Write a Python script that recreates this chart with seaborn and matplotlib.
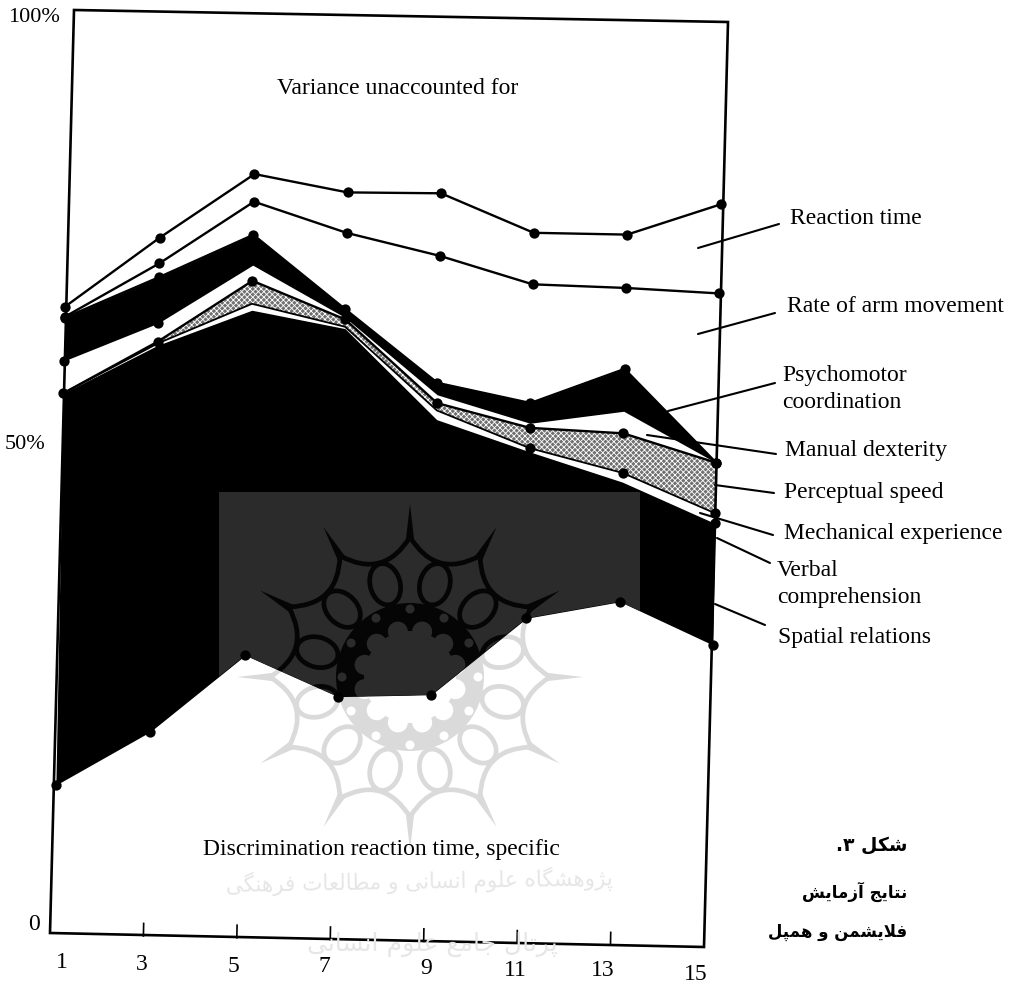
import numpy as np
import pandas as pd
import matplotlib
matplotlib.use("Agg")
import matplotlib.pyplot as plt
import seaborn as sns
from matplotlib.path import Path
from matplotlib.patches import PathPatch, Rectangle, Circle, Polygon
from matplotlib.transforms import Affine2D

# practice trial blocks on the x axis
trials = [1, 3, 5, 7, 9, 11, 13, 15]
tick_labels = ["1", "3", "5", "7", "9", "11", "13", "15"]

# cumulative percent of variance, upper edge of each band
reaction_time = [68.3, 76.0, 83.1, 81.3, 81.4, 77.3, 77.3, 80.8]
arm_movement = [67.2, 73.2, 80.1, 76.9, 74.6, 71.7, 71.5, 71.1]
psychomotor = [67.1, 71.7, 76.5, 68.6, 60.8, 58.8, 62.7, 52.7]
manual_dexterity = [62.4, 66.7, 73.2, 67.7, 59.5, 56.6, 58.1, 52.7]
perceptual = [58.9, 64.7, 71.5, 67.5, 58.6, 56.1, 55.7, 52.7]
mechanical = [58.9, 64.5, 69.0, 66.7, 57.8, 53.9, 51.4, 47.2]
verbal = [58.9, 64.3, 68.3, 66.5, 56.8, 53.5, 50.4, 46.1]
spatial = [16.3, 22.3, 30.8, 26.5, 26.9, 35.4, 37.4, 32.9]

W, H = 1010, 984
sns.set_style("white")
plt.rcParams["font.family"] = "Liberation Serif"
plt.rcParams["hatch.linewidth"] = 0.6
plt.rcParams["text.color"] = "black"

fig = plt.figure(figsize=(W / 100, H / 100), dpi=100)
ax = fig.add_axes([50 / W, 49 / H, 662 / W, 923 / H])
ax.set_xlim(0.936, 15.107)
ax.set_ylim(0, 100.3)
ax.set_axis_off()

# the scanned page sits a little crooked
tilted = ax.transData + Affine2D().rotate_deg_around(50, 49, -1.1)
# image pixels, y down
px = Affine2D().scale(1, -1).translate(0, H)


def rosette(color, hole, clip=None, z=1):
    cx, cy = 410, 677

    def pol(r, deg):
        a = np.radians(deg)
        return (cx + r * np.sin(a), cy - r * np.cos(a))

    parts = []
    spikes = []
    for k in range(12):
        th = 30 * k
        parts.append(Path([pol(140, th), pol(101, th + 15), pol(140, th + 30)],
                          [Path.MOVETO, Path.CURVE3, Path.CURVE3]))
        ex, ey = pol(96, th + 15)
        oval = Affine2D().scale(15, 21).rotate_deg(th + 15).translate(ex, ey)
        parts.append(Path.unit_circle().transformed(oval))
        spikes.append(Polygon([pol(173, th), pol(136, th + 1.8), pol(136, th - 1.8)], fc=color, ec="none",
                              transform=px, zorder=z))
    lines = PathPatch(Path.make_compound_path(*parts), fill=False, ec=color, lw=3.4, transform=px, zorder=z)
    shapes = [lines, Circle((cx, cy), 74, fc=color, ec="none", transform=px, zorder=z)] + spikes
    for k in range(12):
        th = 30 * k
        shapes.append(Circle(pol(47, th + 15), 10, fc=hole, ec="none", transform=px, zorder=z + 0.1))
        shapes.append(Circle(pol(68, th), 4.5, fc=hole, ec="none", transform=px, zorder=z + 0.1))
    shapes.append(Circle((cx, cy), 46, fc=hole, ec="none", transform=px, zorder=z + 0.1))
    for s in shapes:
        if clip is not None:
            s.set_clip_path(*clip)
        else:
            s.set_clip_on(False)
        ax.add_artist(s)


rosette("#dadada", "white", z=1)

# stacked bands
ax.fill_between(trials, psychomotor, manual_dexterity, color="black", lw=0, transform=tilted, clip_on=False, zorder=2)
ax.fill_between(trials, perceptual, mechanical, facecolor="#707070", edgecolor="white", hatch="xxxxxx", lw=0,
                transform=tilted, clip_on=False, zorder=2)
band = ax.fill_between(trials, verbal, spatial, color="black", lw=0, transform=tilted, clip_on=False, zorder=2)

band_clip = (band.get_paths()[0], band.get_transform())
screen = Rectangle((219, 492), 421, 204, fc="#2b2b2b", ec="none", transform=px, zorder=3)
screen.set_clip_path(*band_clip)
ax.add_artist(screen)
rosette("#050505", "#2b2b2b", clip=band_clip, z=3.5)

# outlines and dots
for vals, lw in [(reaction_time, 1.7), (arm_movement, 1.7), (psychomotor, 1.7), (perceptual, 1.7), (mechanical, 1.3)]:
    sns.lineplot(x=trials, y=vals, color="black", linewidth=lw, errorbar=None, ax=ax,
                 transform=tilted, clip_on=False, zorder=4)

dot_sets = [(reaction_time, trials), (arm_movement, trials), (psychomotor, trials),
            (manual_dexterity, trials[:2]), (perceptual, trials), (mechanical, trials[5:]),
            (verbal, trials[7:]), (spatial, trials)]
for vals, keep in dot_sets:
    d = pd.DataFrame({"trial": trials, "pct": vals})
    d = d[d["trial"].isin(keep)]
    sns.scatterplot(data=d, x="trial", y="pct", color="black", s=55, linewidth=0, ax=ax,
                    transform=tilted, clip_on=False, zorder=5)

ax.set_xlim(0.936, 15.107)
ax.set_ylim(0, 100.3)
ax.set_xlabel("")
ax.set_ylabel("")

# frame and ticks
ax.add_patch(Polygon([(74, 10), (728, 22), (704, 947), (50, 933)], fill=False, ec="black", lw=1.9,
                     transform=px, clip_on=False, zorder=6))
tick_tr = tilted + Affine2D().translate(-3, 0)
ax.vlines(trials[1:-1], 0, 1.55, color="black", lw=1.2, transform=tick_tr, clip_on=False, zorder=6)


def label(x, y, s, size=17, **kw):
    kw.setdefault("ha", "left")
    fig.text(x / W, 1 - y / H, s, fontsize=size, va="center", **kw)


label(277, 88, "Variance unaccounted for")
label(203, 850, "Discrimination reaction time, specific")
label(8, 18, "100%", size=16)
label(5, 445, "50%", size=16)
label(28, 925, "0")
xlabel_pos = [(62, 963), (142, 964), (233, 967), (324, 967), (426, 968), (515, 970), (603, 971), (696, 975)]
for (x, y), t in zip(xlabel_pos, tick_labels):
    label(x, y, t, ha="center")

right_labels = [(790, 219, "Reaction time"), (787, 307, "Rate of arm movement"), (782, 376, "Psychomotor"),
                (782, 403, "coordination"), (785, 451, "Manual dexterity"), (784, 493, "Perceptual speed"),
                (784, 533, "Mechanical experience"), (777, 570, "Verbal"), (777, 597, "comprehension"),
                (778, 638, "Spatial relations")]
for x, y, t in right_labels:
    label(x, y, t)

leaders = [((698, 248), (779, 224)), ((698, 334), (775, 313)), ((668, 411), (775, 383)), ((647, 435), (776, 454)),
           ((715, 485), (774, 493)), ((700, 513), (773, 535)), ((717, 538), (770, 563)), ((715, 604), (765, 625))]
for a, b in leaders:
    ax.plot([a[0], b[0]], [a[1], b[1]], color="black", lw=1.5, transform=px, clip_on=False, zorder=7)

# Persian text, presentation forms in visual order
persian = ["ﺷﮑﻞ ۳."[::-1], "ﻧﺘﺎﯾﺞ ﺁﺯﻣﺎﯾﺶ"[::-1], "ﻓﻼﯾﺸﻤﻦ ﻭ ﻫﻤﭙﻞ"[::-1]]
for y, t, s in zip([845, 892, 932], persian, [13.5, 12, 12]):
    label(907, y, t, size=s, ha="right", family="DejaVu Sans", weight="bold")

# faint publisher watermark
mark = [(419, 882, 1, "ﭘﮋﻭﻫﺸﮕﺎﻩ ﻋﻠﻮﻡ ﺍﻧﺴﺎﻧﯽ ﻭ ﻣﻄﺎﻟﻌﺎﺕ ﻓﺮﻫﻨﮕﯽ"[::-1], 15.5),
        (432, 944, 0, "ﭘﺮﺗﺎﻝ ﺟﺎﻣﻊ ﻋﻠﻮﻡ ﺍﻧﺴﺎﻧﯽ"[::-1], 18)]
for x, y, rot, t, s in mark:
    label(x, y, t, size=s, ha="center", family="DejaVu Sans", color="#e6e6e6", rotation=rot, zorder=0)

fig.savefig("out.png", dpi=100)
